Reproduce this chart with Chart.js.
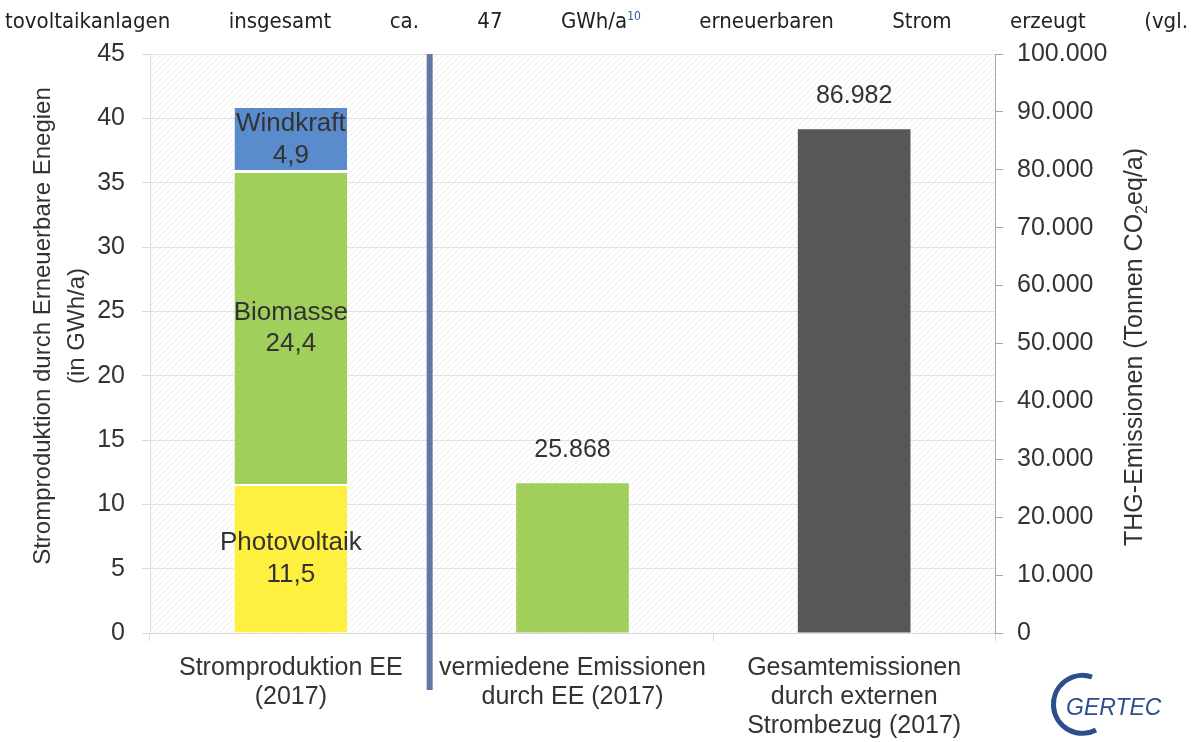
<!DOCTYPE html>
<html>
<head>
<meta charset="utf-8">
<script src="https://cdn.jsdelivr.net/npm/chart.js@4"></script>
<style>
  html, body { margin: 0; padding: 0; background: #fff; }
  #wrap { position: relative; width: 1196px; height: 742px; overflow: hidden; }
  #c { position: absolute; left: 0; top: 0; }
  #topline {
    position: absolute; left: 5px; right: 8px; top: 8px;
    display: flex; justify-content: space-between;
    font-family: "DejaVu Sans Condensed", "DejaVu Sans", sans-serif;
    font-size: 22px; color: #222; white-space: nowrap;
  }
  #topline sup { font-size: 12px; color: #2e5b9a; }
  #logo { position: absolute; left: 1040px; top: 668px; }
</style>
</head>
<body>
<div id="wrap">
  <canvas id="c" width="1196" height="742"></canvas>
  <div id="topline">
    <span>tovoltaikanlagen</span><span>insgesamt</span><span>ca.</span><span>47</span>
    <span>GWh/a<sup>10</sup></span><span>erneuerbaren</span><span>Strom</span><span>erzeugt</span><span>(vgl.</span>
  </div>
  <svg id="logo" width="140" height="72" viewBox="0 0 140 72">
    <path d="M 52 9 A 29 29 0 1 0 56 62" fill="none" stroke="#2b4e8c" stroke-width="5"/>
    <text x="26" y="47" font-family="Liberation Sans, sans-serif" font-style="italic" font-size="23" fill="#2b4e8c">GERTEC</text>
  </svg>
</div>
<script>
// categories and values
const cats = [["Stromproduktion EE", "(2017)"], ["vermiedene Emissionen", "durch EE (2017)"], ["Gesamtemissionen", "durch externen", "Strombezug (2017)"]];
const pv = [11.5, null, null];
const bio = [24.4, null, null];
const wind = [4.9, null, null];
const emis = [null, 25868, 86982];
const segNames = ["Photovoltaik", "Biomasse", "Windkraft"];
const segLabels = ["11,5", "24,4", "4,9"];
const emisLabels = [null, "25.868", "86.982"];

const FONT = "Liberation Sans, Arial, sans-serif";
const TXT = "#333";

// faint diagonal hatch in the plot area
function hatch(ctx) {
  const p = document.createElement("canvas");
  p.width = 6; p.height = 6;
  const g = p.getContext("2d");
  g.strokeStyle = "rgba(0,0,0,0.07)";
  g.lineWidth = 1;
  g.beginPath(); g.moveTo(0, 6); g.lineTo(6, 0); g.stroke();
  g.beginPath(); g.moveTo(-1, 1); g.lineTo(1, -1); g.stroke();
  g.beginPath(); g.moveTo(5, 7); g.lineTo(7, 5); g.stroke();
  return ctx.createPattern(p, "repeat");
}

const extras = {
  id: "extras",
  beforeDraw(chart) {
    const {ctx, chartArea: a} = chart;
    ctx.save();
    ctx.fillStyle = hatch(ctx);
    ctx.fillRect(a.left, a.top, a.right - a.left, a.bottom - a.top);
    ctx.restore();
  },
  afterDraw(chart) {
    const {ctx, chartArea: a} = chart;
    ctx.save();
    ctx.fillStyle = TXT;
    ctx.font = "26px " + FONT;
    ctx.textAlign = "center";
    ctx.textBaseline = "middle";
    // segment labels
    for (let i = 0; i < 3; i++) {
      const el = chart.getDatasetMeta(i).data[0];
      const mid = (el.y + el.base) / 2;
      ctx.fillText(segNames[i], el.x, mid - 15.5);
      ctx.fillText(segLabels[i], el.x, mid + 16);
    }
    // emission labels
    ctx.font = "25px " + FONT;
    const m = chart.getDatasetMeta(3);
    for (let j = 1; j < 3; j++) {
      const el = m.data[j];
      ctx.fillText(emisLabels[j], el.x, el.y - 33);
    }
    // divider
    const xs = chart.scales.x;
    const dx = (xs.getPixelForValue(0) + xs.getPixelForValue(1)) / 2 - 2;
    ctx.fillStyle = "#6078a3";
    ctx.fillRect(dx - 3, a.top, 6, 690 - a.top);
    // left title
    ctx.fillStyle = TXT;
    ctx.font = "24px " + FONT;
    ctx.save();
    ctx.translate(43, 326);
    ctx.rotate(-Math.PI / 2);
    ctx.fillText("Stromproduktion durch Erneuerbare Enegien", 0, 0);
    ctx.fillText("(in GWh/a)", 0, 34);
    ctx.restore();
    // right title with subscript
    ctx.save();
    ctx.translate(1135, 347);
    ctx.rotate(-Math.PI / 2);
    ctx.textAlign = "left";
    const p1 = "THG-Emissionen (Tonnen CO", p2 = "2", p3 = "eq/a)";
    ctx.font = "25px " + FONT;
    const w1 = ctx.measureText(p1).width, w3 = ctx.measureText(p3).width;
    ctx.font = "16px " + FONT;
    const w2 = ctx.measureText(p2).width;
    let x0 = -(w1 + w2 + w3) / 2;
    ctx.font = "25px " + FONT;
    ctx.fillText(p1, x0, 0);
    ctx.font = "16px " + FONT;
    ctx.fillText(p2, x0 + w1, 8);
    ctx.font = "25px " + FONT;
    ctx.fillText(p3, x0 + w1 + w2, 0);
    ctx.restore();
    ctx.restore();
  }
};

const barOpts = {categoryPercentage: 0.4, barPercentage: 1, borderColor: "#fff", borderSkipped: false};

new Chart(document.getElementById("c"), {
  type: "bar",
  data: {
    labels: cats,
    datasets: [
      {data: pv, backgroundColor: "#ffef3f", yAxisID: "y", borderWidth: {top: 1, left: 0, right: 0, bottom: 0}, ...barOpts},
      {data: bio, backgroundColor: "#a0d05b", yAxisID: "y", borderWidth: {top: 2, left: 0, right: 0, bottom: 1}, ...barOpts},
      {data: wind, backgroundColor: "#5a8bcd", yAxisID: "y", borderWidth: {top: 0, left: 0, right: 0, bottom: 1}, ...barOpts},
      {data: emis, backgroundColor: [null, "#a0d05b", "#575757"], yAxisID: "y1", borderWidth: 0, ...barOpts}
    ]
  },
  options: {
    responsive: false,
    animation: false,
    layout: {padding: {top: 54, left: 0, right: 0, bottom: 0}},
    plugins: {legend: {display: false}, tooltip: {enabled: false}},
    scales: {
      x: {
        stacked: true,
        grid: {display: true, drawOnChartArea: false, offset: true, tickLength: 8, color: "#d9d9d9"},
        border: {color: "#d9d9d9", width: 1},
        ticks: {color: TXT, font: {family: FONT, size: 25, lineHeight: 1.16}, padding: 13, maxRotation: 0, autoSkip: false},
        afterFit: s => { s.height = 109; }
      },
      y: {
        stacked: true,
        min: 0, max: 45,
        ticks: {stepSize: 5, color: TXT, font: {family: FONT, size: 25}, padding: 17},
        grid: {color: "#e3e3e3", tickLength: 8, tickColor: "#d9d9d9"},
        border: {color: "#d9d9d9"},
        afterFit: s => { s.width = 150; }
      },
      y1: {
        position: "right",
        min: 0, max: 100000,
        ticks: {stepSize: 10000, color: TXT, font: {family: FONT, size: 25}, padding: 14,
          callback: v => v.toLocaleString("de-DE")},
        grid: {drawOnChartArea: false, tickLength: 8, color: "#a6a6a6"},
        border: {color: "#a6a6a6"},
        afterFit: s => { s.width = 201; }
      }
    }
  },
  plugins: [extras]
});
</script>
</body>
</html>
